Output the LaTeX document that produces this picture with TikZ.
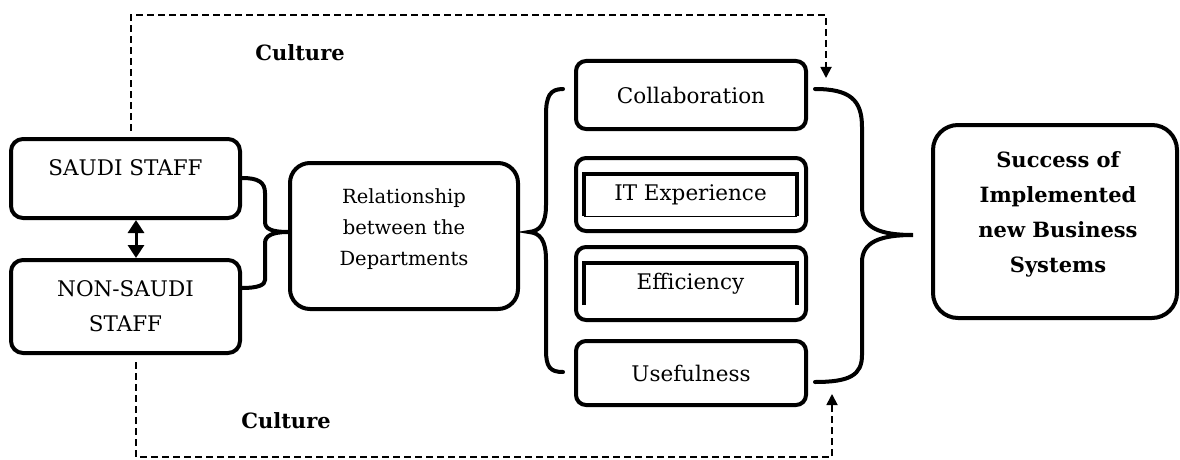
\documentclass[tikz,border=0pt]{standalone}
\usepackage{fontspec}
\setmainfont{DejaVu Serif}
\usetikzlibrary{arrows.meta}
\begin{document}
\begin{tikzpicture}[x=1pt,y=-1pt,
  box/.style={draw, line width=4pt, rounded corners=12pt, inner sep=0pt},
  txt/.style={font=\fontsize{21.5}{35}\selectfont, align=center, inner sep=0pt},
  reltxt/.style={font=\fontsize{19.5}{31}\selectfont, align=center, inner sep=0pt},
  boldtxt/.style={font=\fontsize{21}{35}\selectfont\bfseries, align=center, inner sep=0pt},
  brace/.style={line width=4pt, line cap=round},
  culture/.style={line width=1.8pt, dash pattern=on 7pt off 4pt, -{Triangle[width=11pt,length=11pt]}},
  thick side/.style={line width=3.5pt},
  thin side/.style={line width=1.3pt}]
\useasboundingbox (0,0) rectangle (1180,460);

% staff boxes
\node[box, minimum width=229pt, minimum height=79pt] (saudi) at (125.5,178.5) {};
\node[txt] (saudit) at (125.5,168) {SAUDI STAFF};
\node[box, minimum width=229pt, minimum height=93pt, txt] (nonsaudi) at (125.5,306.5) {NON-SAUDI\\STAFF};
\draw[line width=3pt, {Triangle[width=16pt,length=13pt]}-{Triangle[width=16pt,length=13pt]}]
  ([xshift=10.5pt]saudi.south) -- ([xshift=10.5pt]nonsaudi.north);

% relationship box
\node[box, rounded corners=20pt, minimum width=228pt, minimum height=146pt] (rel) at (404,236) {};
\node[reltxt] (relt) at (404,229) {Relationship\\between the\\Departments};

% factor boxes
\node[box, rounded corners=10pt, minimum width=230pt, minimum height=68pt, txt] (collab) at (691,95) {Collaboration};
\node[box, rounded corners=10pt, minimum width=230pt, minimum height=73pt] (itbox) at (691,194.5) {};
\node[txt, minimum width=213pt, minimum height=42pt] (itx) at (690.5,195) {IT Experience};
\draw[thick side] (itx.south west) -- (itx.north west) -- (itx.north east) -- (itx.south east);
\draw[thin side] (itx.south west) -- (itx.south east);
\node[box, rounded corners=10pt, minimum width=230pt, minimum height=73pt] (effbox) at (691,283.5) {};
\node[txt, minimum width=213pt, minimum height=42pt] (eff) at (690.5,284) {Efficiency};
\draw[thick side] (eff.south west) -- (eff.north west) -- (eff.north east) -- (eff.south east);
\node[box, rounded corners=10pt, minimum width=230pt, minimum height=64pt, txt] (useful) at (691,373) {Usefulness};

% outcome box
\node[box, rounded corners=25pt, minimum width=244pt, minimum height=193pt] (success) at (1055,221.5) {};
\node[boldtxt] (successt) at (1058,214.5) {Success of\\Implemented\\new Business\\Systems};

% braces
\draw[brace] (242,178) .. controls (258,178) and (265,182) .. (265,193) -- (265,222)
  .. controls (265,229) and (272,232) .. (288,232)
  .. controls (272,232) and (265,236) .. (265,243) -- (265,280)
  .. controls (265,285) and (258,288) .. (242,288);
\draw[brace] (563,89) .. controls (550,89) and (546,96) .. (546,115) -- (546,205)
  .. controls (546,224) and (540,231) .. (529,232)
  .. controls (540,233) and (546,240) .. (546,260) -- (546,350)
  .. controls (546,367) and (550,372) .. (563,372);
\draw[brace] (815,89) .. controls (850,89) and (862,100) .. (862,127) -- (862,207)
  .. controls (862,228) and (880,235) .. (913,235)
  .. controls (880,235) and (862,242) .. (862,262) -- (862,355)
  .. controls (862,375) and (850,382) .. (815,382);

% culture links
\coordinate (toptip) at (826,78);
\coordinate (bottip) at (832,394);
\draw[culture] ([xshift=5.5pt,yshift=6pt]saudi.north) |- (826,15) -- (toptip);
\draw[culture] ([xshift=10.5pt,yshift=-7pt]nonsaudi.south) |- (832,457) -- (bottip);
\node[boldtxt] (cultop) at (300,53) {Culture};
\node[boldtxt] (culbot) at (286,421) {Culture};
\end{tikzpicture}
\end{document}
